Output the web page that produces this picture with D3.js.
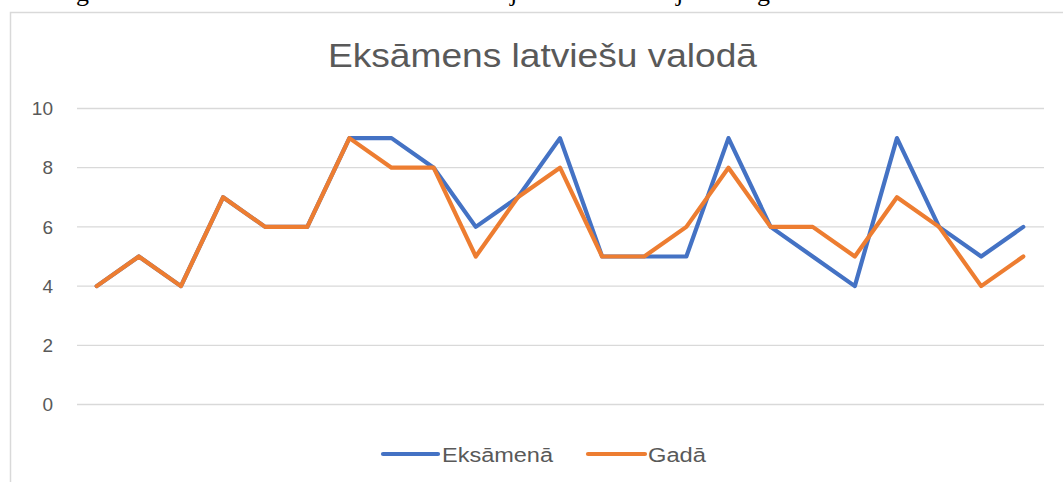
<!DOCTYPE html>
<html>
<meta charset="utf-8">
<script src="https://d3js.org/d3.v7.js"></script>
<style>
  body { margin: 0; background: #fff; }
</style>
<body>
<div id="chart"></div>
<script>
  // data
  var categories = d3.range(1, 24);   // 23 students, no axis labels shown
  var seriesNames = ["Eksāmenā", "Gadā"];
  var eksamena = [4, 5, 4, 7, 6, 6, 9, 9, 8, 6, 7, 9, 5, 5, 5, 9, 6, 5, 4, 9, 6, 5, 6];
  var gada     = [4, 5, 4, 7, 6, 6, 9, 8, 8, 5, 7, 8, 5, 5, 6, 8, 6, 6, 5, 7, 6, 4, 5];
  var yTicks = [0, 2, 4, 6, 8, 10];
  var colors = ["#4472C4", "#ED7D31"];

  var width = 1063, height = 482;

  var svg = d3.select("#chart").append("svg")
      .attr("width", width)
      .attr("height", height)
      .style("display", "block");

  // clipped text line of the document above the chart
  svg.append("g")
      .attr("font-family", "Liberation Serif, Times New Roman, serif")
      .attr("font-size", 26)
      .attr("fill", "#000")
      .selectAll("text")
      .data([{ x: 76, t: "g" }, { x: 510, t: "j" }, { x: 676, t: "j" }, { x: 757, t: "g" }])
      .enter().append("text")
      .attr("x", function (d) { return d.x; })
      .attr("y", 1)
      .text(function (d) { return d.t; });

  // chart frame
  svg.append("rect")
      .attr("x", 10.5)
      .attr("y", 12.5)
      .attr("width", 1070)
      .attr("height", 500)
      .attr("fill", "#fff")
      .attr("stroke", "#d9d9d9")
      .attr("stroke-width", 1.5);

  var x = d3.scalePoint()
      .domain(categories)
      .range([96.7, 1023.3]);

  var y = d3.scaleLinear()
      .domain([0, 10])
      .range([404.5, 108.5]);

  // gridlines
  svg.append("g")
      .selectAll("line")
      .data(yTicks)
      .enter().append("line")
      .attr("x1", 77)
      .attr("x2", 1044)
      .attr("y1", function (d) { return y(d); })
      .attr("y2", function (d) { return y(d); })
      .attr("stroke", "#d9d9d9")
      .attr("stroke-width", 1.3);

  // y axis labels
  svg.append("g")
      .attr("font-family", "Liberation Sans, Arial, sans-serif")
      .attr("font-size", 19)
      .attr("fill", "#595959")
      .selectAll("text")
      .data(yTicks)
      .enter().append("text")
      .attr("x", 53)
      .attr("y", function (d) { return y(d); })
      .attr("dy", "0.35em")
      .attr("text-anchor", "end")
      .text(function (d) { return d; });

  // title
  svg.append("text")
      .attr("x", 328)
      .attr("y", 67)
      .attr("font-family", "Liberation Sans, Arial, sans-serif")
      .attr("font-size", 34)
      .attr("fill", "#595959")
      .attr("textLength", 429)
      .attr("lengthAdjust", "spacingAndGlyphs")
      .text("Eksāmens latviešu valodā");

  // lines
  var line = d3.line()
      .x(function (d, i) { return x(categories[i]); })
      .y(function (d) { return y(d); });

  var allSeries = [eksamena, gada];
  svg.append("g")
      .selectAll("path")
      .data(allSeries)
      .enter().append("path")
      .attr("d", line)
      .attr("fill", "none")
      .attr("stroke", function (d, i) { return colors[i]; })
      .attr("stroke-width", 4.2)
      .attr("stroke-linejoin", "round")
      .attr("stroke-linecap", "round");

  // legend
  var legendPos = [
      { x1: 383, x2: 438, tx: 442, tw: 111 },
      { x1: 588, x2: 645, tx: 648, tw: 58 }
  ];
  var legend = svg.append("g")
      .selectAll("g")
      .data(seriesNames)
      .enter().append("g");
  legend.append("line")
      .attr("x1", function (d, i) { return legendPos[i].x1; })
      .attr("x2", function (d, i) { return legendPos[i].x2; })
      .attr("y1", 454)
      .attr("y2", 454)
      .attr("stroke", function (d, i) { return colors[i]; })
      .attr("stroke-width", 4.2)
      .attr("stroke-linecap", "round");
  legend.append("text")
      .attr("x", function (d, i) { return legendPos[i].tx; })
      .attr("y", 462)
      .attr("font-family", "Liberation Sans, Arial, sans-serif")
      .attr("font-size", 20)
      .attr("fill", "#595959")
      .attr("textLength", function (d, i) { return legendPos[i].tw; })
      .attr("lengthAdjust", "spacingAndGlyphs")
      .text(function (d) { return d; });
</script>
</body>
</html>
